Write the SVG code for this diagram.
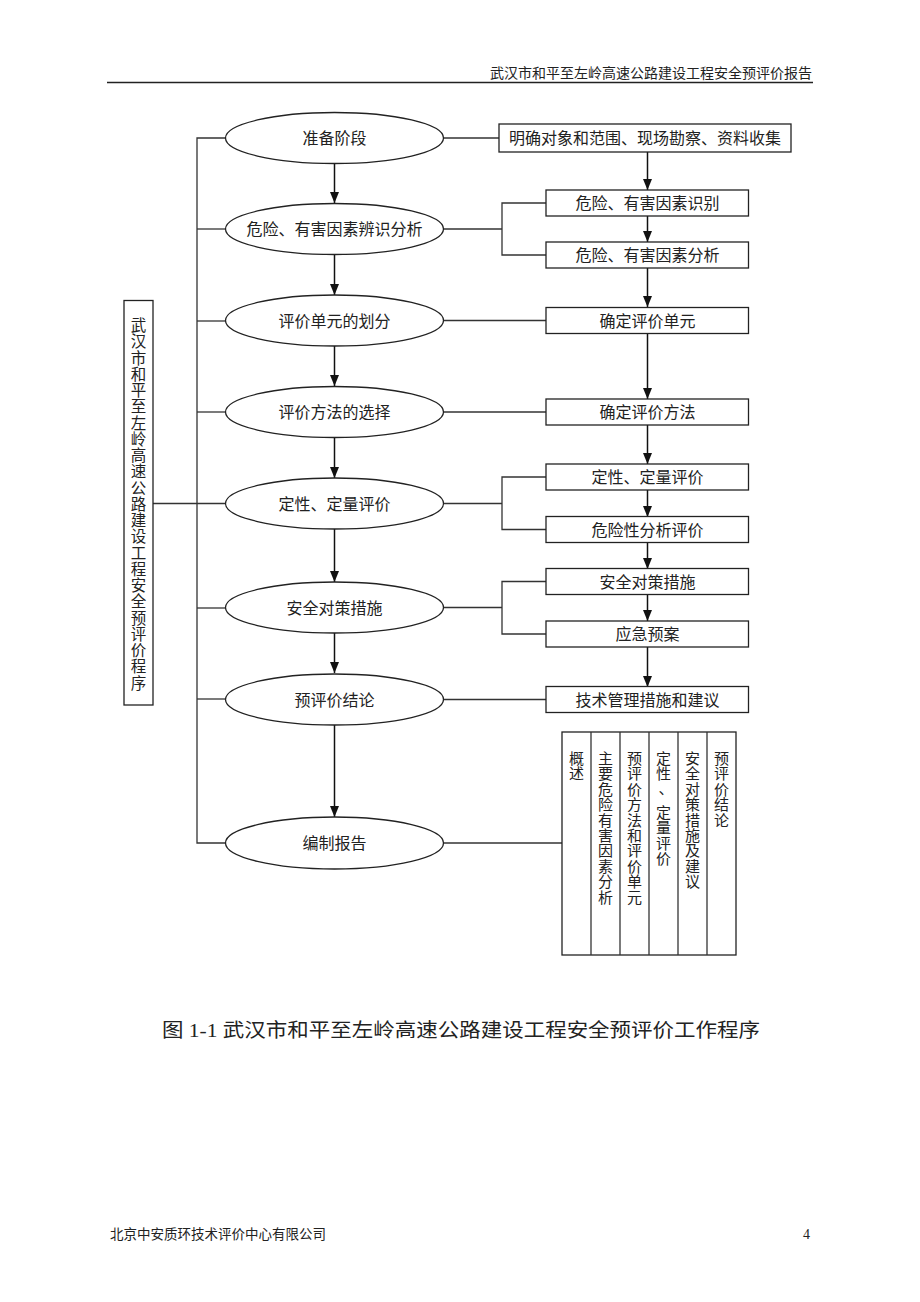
<svg xmlns="http://www.w3.org/2000/svg" width="920" height="1302" viewBox="0 0 920 1302">
<style>
text{font-family:"Liberation Serif","Noto Sans CJK SC",serif;fill:#222}
.t{font-size:16px;text-anchor:middle}
.v{font-size:15px;text-anchor:middle}
.sh{fill:#fff;stroke:#222;stroke-width:1.3}
.ln{fill:none;stroke:#333;stroke-width:1.3}
.ar{fill:none;stroke:#111;stroke-width:1.5;marker-end:url(#ah)}
</style>
<defs>
<marker id="ah" viewBox="0 0 11 9" markerWidth="11" markerHeight="9" refX="11" refY="4.5" orient="auto" markerUnits="userSpaceOnUse">
<path d="M0,0 L11,4.5 L0,9 z" fill="#111"/>
</marker>
</defs>
<rect width="920" height="1302" fill="#fff"/>
<g id="header">
<text x="812" y="78" style="font-size:14px;text-anchor:end">武汉市和平至左岭高速公路建设工程安全预评价报告</text>
<line x1="107" y1="82.5" x2="813" y2="82.5" stroke="#222" stroke-width="1.5"/>
</g>
<g id="connectors">
<polyline class="ln" points="226,138 197,138 197,843 226,843"/>
<line class="ln" x1="197" y1="229" x2="226" y2="229"/>
<line class="ln" x1="197" y1="321" x2="226" y2="321"/>
<line class="ln" x1="197" y1="412" x2="226" y2="412"/>
<line class="ln" x1="153" y1="503.5" x2="226" y2="503.5"/>
<line class="ln" x1="197" y1="608" x2="226" y2="608"/>
<line class="ln" x1="197" y1="699" x2="226" y2="699"/>
<line class="ar" x1="334.5" y1="164" x2="334.5" y2="203"/>
<line class="ar" x1="334.5" y1="255" x2="334.5" y2="295"/>
<line class="ar" x1="334.5" y1="346" x2="334.5" y2="386"/>
<line class="ar" x1="334.5" y1="437" x2="334.5" y2="478"/>
<line class="ar" x1="334.5" y1="529" x2="334.5" y2="582"/>
<line class="ar" x1="334.5" y1="633" x2="334.5" y2="673"/>
<line class="ar" x1="334.5" y1="725" x2="334.5" y2="817"/>
<line class="ln" x1="444" y1="138" x2="499" y2="138"/>
<line class="ln" x1="444" y1="229" x2="502" y2="229"/>
<polyline class="ln" points="546,203 502,203 502,255 546,255"/>
<line class="ln" x1="444" y1="320.5" x2="546" y2="320.5"/>
<line class="ln" x1="444" y1="412" x2="546" y2="412"/>
<line class="ln" x1="444" y1="503.5" x2="502" y2="503.5"/>
<polyline class="ln" points="546,477 502,477 502,529.5 546,529.5"/>
<line class="ln" x1="444" y1="607.5" x2="502" y2="607.5"/>
<polyline class="ln" points="546,581.5 502,581.5 502,634 546,634"/>
<line class="ln" x1="444" y1="699.5" x2="546" y2="699.5"/>
<line class="ln" x1="444" y1="843" x2="562" y2="843"/>
<line class="ar" x1="647.5" y1="152" x2="647.5" y2="190"/>
<line class="ar" x1="647.5" y1="216" x2="647.5" y2="242"/>
<line class="ar" x1="647.5" y1="268" x2="647.5" y2="307"/>
<line class="ar" x1="647.5" y1="333" x2="647.5" y2="399"/>
<line class="ar" x1="647.5" y1="425" x2="647.5" y2="464"/>
<line class="ar" x1="647.5" y1="490" x2="647.5" y2="517"/>
<line class="ar" x1="647.5" y1="542" x2="647.5" y2="569"/>
<line class="ar" x1="647.5" y1="594" x2="647.5" y2="621"/>
<line class="ar" x1="647.5" y1="647" x2="647.5" y2="687"/>
</g>
<g id="n-title-box">
<rect class="sh" x="124" y="300.5" width="29" height="404.5"/>
<text class="v" style="font-size:15.5px"><tspan x="138.5" y="331">武</tspan><tspan x="138.5" y="347.25">汉</tspan><tspan x="138.5" y="363.5">市</tspan><tspan x="138.5" y="379.75">和</tspan><tspan x="138.5" y="396">平</tspan><tspan x="138.5" y="412.25">至</tspan><tspan x="138.5" y="428.5">左</tspan><tspan x="138.5" y="444.75">岭</tspan><tspan x="138.5" y="461">高</tspan><tspan x="138.5" y="477.25">速</tspan><tspan x="138.5" y="493.5">公</tspan><tspan x="138.5" y="509.75">路</tspan><tspan x="138.5" y="526">建</tspan><tspan x="138.5" y="542.25">设</tspan><tspan x="138.5" y="558.5">工</tspan><tspan x="138.5" y="574.75">程</tspan><tspan x="138.5" y="591">安</tspan><tspan x="138.5" y="607.25">全</tspan><tspan x="138.5" y="623.5">预</tspan><tspan x="138.5" y="639.75">评</tspan><tspan x="138.5" y="656">价</tspan><tspan x="138.5" y="672.25">程</tspan><tspan x="138.5" y="688.5">序</tspan></text>
</g>
<g id="n-prep"><ellipse class="sh" cx="334.5" cy="138" rx="109" ry="25.5"/><text class="t" x="334.5" y="144">准备阶段</text></g>
<g id="n-hazard"><ellipse class="sh" cx="334.5" cy="229" rx="109" ry="25.5"/><text class="t" x="334.5" y="235">危险、有害因素辨识分析</text></g>
<g id="n-unit"><ellipse class="sh" cx="334.5" cy="320.5" rx="109" ry="25.5"/><text class="t" x="334.5" y="326.5">评价单元的划分</text></g>
<g id="n-method"><ellipse class="sh" cx="334.5" cy="412" rx="109" ry="25.5"/><text class="t" x="334.5" y="418">评价方法的选择</text></g>
<g id="n-eval"><ellipse class="sh" cx="334.5" cy="503.5" rx="109" ry="25.5"/><text class="t" x="334.5" y="509.5">定性、定量评价</text></g>
<g id="n-safety"><ellipse class="sh" cx="334.5" cy="607.5" rx="109" ry="25.5"/><text class="t" x="334.5" y="613.5">安全对策措施</text></g>
<g id="n-conclusion"><ellipse class="sh" cx="334.5" cy="699.5" rx="109" ry="25.5"/><text class="t" x="334.5" y="705.5">预评价结论</text></g>
<g id="n-report"><ellipse class="sh" cx="334.5" cy="843" rx="109" ry="26"/><text class="t" x="334.5" y="849">编制报告</text></g>
<g id="b-collect"><rect class="sh" x="499" y="124" width="292" height="28"/><text class="t" x="645" y="144">明确对象和范围、现场勘察、资料收集</text></g>
<g id="b-identify"><rect class="sh" x="546" y="190" width="202.5" height="26"/><text class="t" x="647.5" y="209">危险、有害因素识别</text></g>
<g id="b-analyse"><rect class="sh" x="546" y="242" width="202.5" height="26"/><text class="t" x="647.5" y="261">危险、有害因素分析</text></g>
<g id="b-unit"><rect class="sh" x="546" y="307.5" width="202.5" height="26"/><text class="t" x="647.5" y="326.5">确定评价单元</text></g>
<g id="b-method"><rect class="sh" x="546" y="399" width="202.5" height="26"/><text class="t" x="647.5" y="418">确定评价方法</text></g>
<g id="b-eval"><rect class="sh" x="546" y="464" width="202.5" height="26"/><text class="t" x="647.5" y="483">定性、定量评价</text></g>
<g id="b-risk"><rect class="sh" x="546" y="516.5" width="202.5" height="26"/><text class="t" x="647.5" y="535.5">危险性分析评价</text></g>
<g id="b-safety"><rect class="sh" x="546" y="568.5" width="202.5" height="26"/><text class="t" x="647.5" y="587.5">安全对策措施</text></g>
<g id="b-emergency"><rect class="sh" x="546" y="621" width="202.5" height="26"/><text class="t" x="647.5" y="640">应急预案</text></g>
<g id="b-tech"><rect class="sh" x="546" y="686.5" width="202.5" height="26"/><text class="t" x="647.5" y="705.5">技术管理措施和建议</text></g>
<g id="b-report-table">
<rect class="sh" x="562" y="732" width="174" height="223"/>
<line class="ln" x1="591" y1="732" x2="591" y2="955"/>
<line class="ln" x1="620" y1="732" x2="620" y2="955"/>
<line class="ln" x1="649" y1="732" x2="649" y2="955"/>
<line class="ln" x1="678" y1="732" x2="678" y2="955"/>
<line class="ln" x1="707" y1="732" x2="707" y2="955"/>
<text class="v"><tspan x="576.5" y="764">概</tspan><tspan x="576.5" y="779.4">述</tspan></text>
<text class="v"><tspan x="605.5" y="764">主</tspan><tspan x="605.5" y="779.4">要</tspan><tspan x="605.5" y="794.8">危</tspan><tspan x="605.5" y="810.2">险</tspan><tspan x="605.5" y="825.6">有</tspan><tspan x="605.5" y="841">害</tspan><tspan x="605.5" y="856.4">因</tspan><tspan x="605.5" y="871.8">素</tspan><tspan x="605.5" y="887.2">分</tspan><tspan x="605.5" y="902.6">析</tspan></text>
<text class="v"><tspan x="634.5" y="764">预</tspan><tspan x="634.5" y="779.4">评</tspan><tspan x="634.5" y="794.8">价</tspan><tspan x="634.5" y="810.2">方</tspan><tspan x="634.5" y="825.6">法</tspan><tspan x="634.5" y="841">和</tspan><tspan x="634.5" y="856.4">评</tspan><tspan x="634.5" y="871.8">价</tspan><tspan x="634.5" y="887.2">单</tspan><tspan x="634.5" y="902.6">元</tspan></text>
<text class="v"><tspan x="663.5" y="764">定</tspan><tspan x="663.5" y="779.4">性</tspan><tspan x="666" y="794">、</tspan><tspan x="663.5" y="818">定</tspan><tspan x="663.5" y="833.4">量</tspan><tspan x="663.5" y="848.8">评</tspan><tspan x="663.5" y="864.2">价</tspan></text>
<text class="v"><tspan x="692.5" y="764">安</tspan><tspan x="692.5" y="779.4">全</tspan><tspan x="692.5" y="794.8">对</tspan><tspan x="692.5" y="810.2">策</tspan><tspan x="692.5" y="825.6">措</tspan><tspan x="692.5" y="841">施</tspan><tspan x="692.5" y="856.4">及</tspan><tspan x="692.5" y="871.8">建</tspan><tspan x="692.5" y="887.2">议</tspan></text>
<text class="v"><tspan x="721.5" y="764">预</tspan><tspan x="721.5" y="779.4">评</tspan><tspan x="721.5" y="794.8">价</tspan><tspan x="721.5" y="810.2">结</tspan><tspan x="721.5" y="825.6">论</tspan></text>
</g>
<g id="caption">
<text x="162" y="1037" style="font-size:19.5px" textLength="598" lengthAdjust="spacingAndGlyphs">图 1-1 武汉市和平至左岭高速公路建设工程安全预评价工作程序</text>
</g>
<g id="footer">
<text x="110" y="1239" style="font-size:13.5px">北京中安质环技术评价中心有限公司</text>
<text x="810" y="1239" style="font-size:14px;text-anchor:end">4</text>
</g>
</svg>
